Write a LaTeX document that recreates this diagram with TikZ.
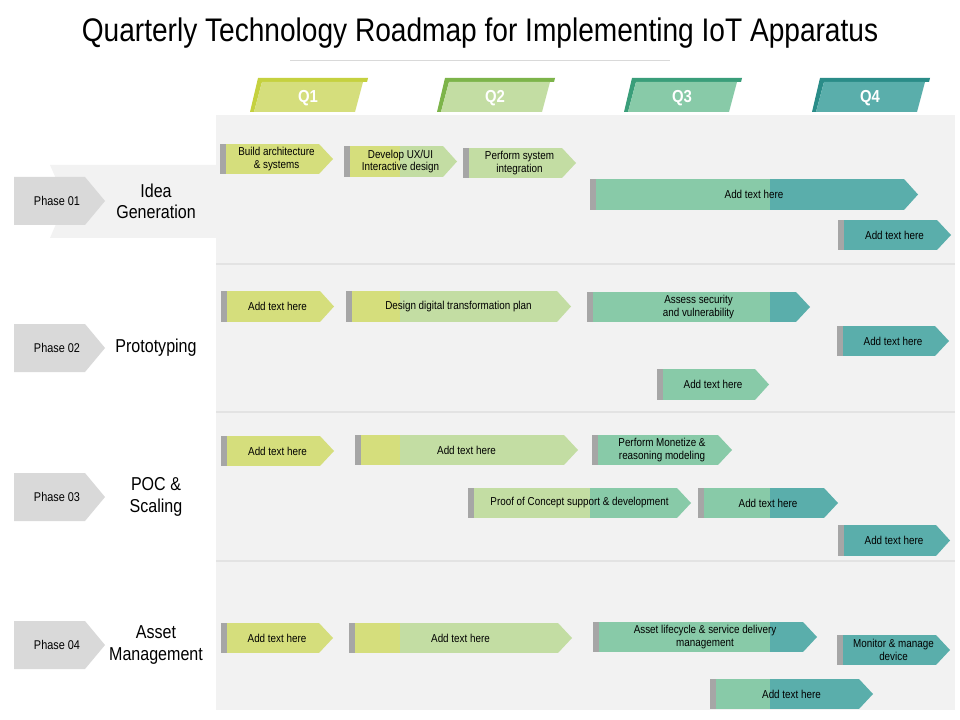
\documentclass[tikz,border=0pt]{standalone}
\usepackage{fontspec}
\setmainfont{Liberation Sans}[FakeStretch=0.86]
\usetikzlibrary{positioning}
\definecolor{qa}{HTML}{D5DE7C}
\definecolor{qb}{HTML}{C3DDA3}
\definecolor{qc}{HTML}{88CAA8}
\definecolor{qd}{HTML}{5AAEAB}
\definecolor{panel}{HTML}{F2F2F2}
\definecolor{phasegray}{HTML}{D9D9D9}
\definecolor{capgray}{HTML}{A6A6A6}
% one task bar: name, x1, x2, ytop, ybottom, text
\newcommand\taskbar[6]{%
  \begin{scope}
    \clip (#2,#4) -- (#3-14,#4) -- (#3,{(#4+#5)/2}) -- (#3-14,#5) -- (#2,#5) -- cycle;
    \fill[qa] (0,#4) rectangle (400,#5);
    \fill[qb] (400,#4) rectangle (590,#5);
    \fill[qc] (590,#4) rectangle (770,#5);
    \fill[qd] (770,#4) rectangle (960,#5);
  \end{scope}
  \fill[capgray] (#2,#4) rectangle (#2+6,#5);
  \node[bartext] (#1) at ({(#2+#3)/2},{(#4+#5)/2}) {#6};}
\begin{document}
\begin{tikzpicture}[x=0.75pt,y=-0.75pt,
  bartext/.style={font=\fontsize{8.6}{9.2}\selectfont,align=center,inner sep=0pt},
  phasebox/.style={fill=phasegray},
  phasetext/.style={font=\fontsize{9.5}{10}\selectfont,inner sep=0pt},
  rowtitle/.style={font=\fontsize{14}{16}\selectfont,align=center,inner sep=0pt},
  qtext/.style={text=white,font=\bfseries\fontsize{13}{13}\selectfont,inner sep=0pt}
]
\useasboundingbox (0,0) rectangle (960,720);
\fill[white] (0,0) rectangle (960,720);
\node[font=\fontsize{24.5}{27}\selectfont] (title) at (480,33) {Quarterly Technology Roadmap for Implementing IoT Apparatus};
\draw[gray!30] (290,60) -- (670,60);

% panel and row lines
\fill[panel] (216,115) rectangle (955,710);
\fill[panel] (50,165) -- (216,165) -- (216,238) -- (50,238) -- (66,201) -- cycle;
\foreach \yy in {264,412,561} \draw[gray!22,line width=0.8pt] (216,\yy) -- (955,\yy);

% quarter headers
\foreach \xx/\col/\acc/\lab in {250/qa/{rgb,255:red,197;green,209;blue,63}/Q1,
  437/qb/{rgb,255:red,125;green,180;blue,74}/Q2,
  624/qc/{rgb,255:red,58;green,158;blue,122}/Q3,
  812/qd/{rgb,255:red,42;green,140;blue,136}/Q4} {
  \fill[color=\acc] (\xx+8,78) -- (\xx+118,78) -- (\xx+117,82) -- (\xx+12,82) -- (\xx+4,112) -- (\xx,112) -- cycle;
  \fill[\col] (\xx+12,82) -- (\xx+113,82) -- (\xx+105,112) -- (\xx+4,112) -- cycle;
  \node[qtext] (h\lab) at (\xx+58,98) {\lab};
}

% phases
\foreach \yc/\n/\ttl in {201/01/{Idea\\Generation},348/02/{Prototyping},497/03/{POC \&\\Scaling},645/04/{Asset\\Management}} {
  \fill[phasebox] (14,\yc-24) -- (85,\yc-24) -- (105,\yc) -- (85,\yc+24) -- (14,\yc+24) -- cycle;
  \node[phasetext] (p\n) at (57,\yc) {Phase \n};
  \node[rowtitle] (t\n) at (156,\yc) {\ttl};
}

% row 1
\taskbar{ra}{220}{333}{144}{174}{Build architecture\\\& systems}
\taskbar{rb}{344}{457}{146}{177}{Develop UX/UI\\Interactive design}
\taskbar{rc}{463}{576}{148}{178}{Perform system\\integration}
\taskbar{rd}{590}{918}{179}{210}{Add text here}
\taskbar{re}{838}{951}{220}{250}{Add text here}
% row 2
\taskbar{sa}{221}{334}{291}{322}{Add text here}
\taskbar{sb}{346}{571}{291}{322}{Design digital transformation plan}
\taskbar{sc}{587}{810}{292}{322}{Assess security\\and vulnerability}
\taskbar{sd}{837}{949}{326}{356}{Add text here}
\taskbar{se}{657}{769}{369}{400}{Add text here}
% row 3
\taskbar{ua}{221}{334}{436}{466}{Add text here}
\taskbar{ub}{355}{578}{435}{465}{Add text here}
\taskbar{uc}{592}{732}{435}{465}{Perform Monetize \&\\reasoning modeling}
\taskbar{ud}{468}{691}{488}{518}{Proof of Concept support \& development}
\taskbar{ue}{698}{838}{488}{518}{Add text here}
\taskbar{uf}{838}{950}{525}{556}{Add text here}
% row 4
\taskbar{va}{221}{333}{623}{653}{Add text here}
\taskbar{vb}{349}{572}{623}{653}{Add text here}
\taskbar{vc}{593}{817}{622}{652}{Asset lifecycle \& service delivery\\management}
\taskbar{vd}{837}{950}{635}{665}{Monitor \& manage\\device}
\taskbar{ve}{710}{873}{679}{709}{Add text here}
\end{tikzpicture}
\end{document}
